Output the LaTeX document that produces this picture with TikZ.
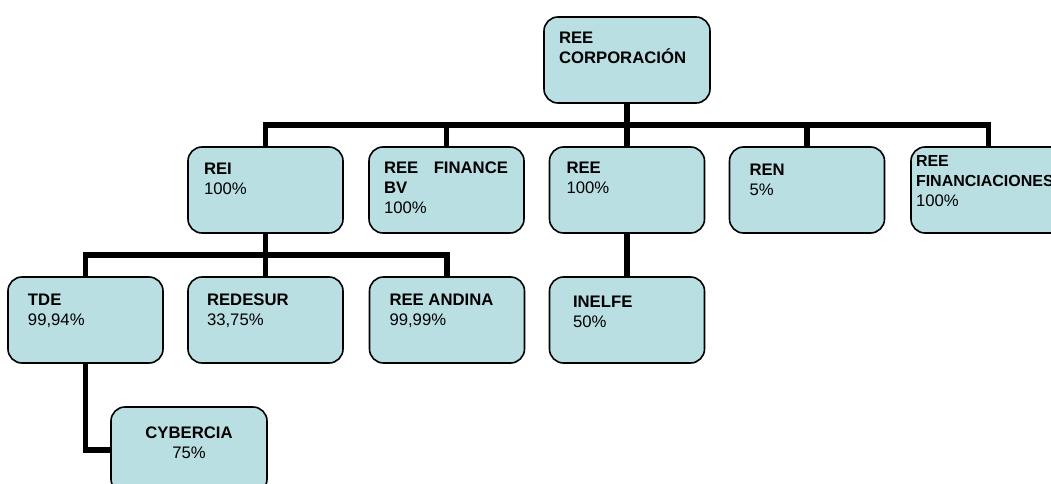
\documentclass[tikz,border=0pt]{standalone}
\usepackage{fontspec}
\setmainfont{Liberation Sans}
\definecolor{cajafill}{HTML}{B9DFE3}
% caja: [ancho]{sangria}{primera linea base}{texto}
\newcommand{\caja}[4][155]{\parbox[c][86pt][t]{#1pt}{\raggedright\leftskip=#2pt\rule{0pt}{#3pt}#4}}
\begin{document}
\begin{tikzpicture}[x=1pt,y=-1pt,
    caja/.style={draw=black,line width=1.6pt,fill=cajafill,rounded corners=14pt,
      inner sep=0pt,font=\fontsize{16.7}{20}\selectfont},
    conector/.style={line width=5.5pt,line join=miter}]
    \useasboundingbox (0,0) rectangle (1051,484);
    % Cajas
    \node[caja] (corp) at (627,60) {\caja[166]{15}{27}{\textbf{REE}\\\textbf{CORPORACIÓN}}};
    \node[caja] (rei) at (265.5,190) {\caja{16}{27}{\textbf{REI}\\100\%}};
    \node[caja] (finbv) at (446.5,190) {\caja{15}{26}{\makebox[124pt][s]{\textbf{REE FINANCE}}\\\textbf{BV}\\100\%}};
    \node[caja] (ree) at (627,190) {\caja{17}{26}{\textbf{REE}\\100\%}};
    \node[caja] (ren) at (807,190) {\caja{20}{28.5}{\textbf{REN}\\5\%}};
    \node[caja] (fincs) at (988.5,190) {\caja{5}{19}{\fontsize{16}{20}\selectfont\textbf{REE}\\\textbf{FINANCIACIONES}\\\fontsize{16.7}{20}\selectfont 100\%}};
    \node[caja] (tde) at (85.5,320) {\caja{20}{28}{\textbf{TDE}\\99,94\%}};
    \node[caja] (redesur) at (265.5,320) {\caja{19}{28}{\textbf{REDESUR}\\33,75\%}};
    \node[caja] (andina) at (447,320) {\caja{20}{28}{\textbf{REE ANDINA}\\99,99\%}};
    \node[caja] (inelfe) at (627,320) {\caja{23.5}{30}{\textbf{INELFE}\\50\%}};
    \node[caja] (cyber) at (189,450) {\caja[156]{0}{31}{\centering\textbf{CYBERCIA}\\75\%}};
    % Lineas
    \coordinate (bus1) at (627,125);
    \coordinate (bus2) at (265.5,255);
    \draw[conector] (corp.south) -- (ree.north);
    \draw[conector] (rei.north) |- (bus1) -| (fincs.north);
    \foreach \n in {finbv,ren}
    \draw[conector] (\n.north) -- (\n.north |- bus1);
    \draw[conector] (rei.south) -- (redesur.north);
    \draw[conector] (tde.north) |- (bus2) -| (andina.north);
    \draw[conector] (ree.south) -- (inelfe.north);
    \draw[conector] (tde.south) |- (cyber.west);
\end{tikzpicture}
\end{document}
